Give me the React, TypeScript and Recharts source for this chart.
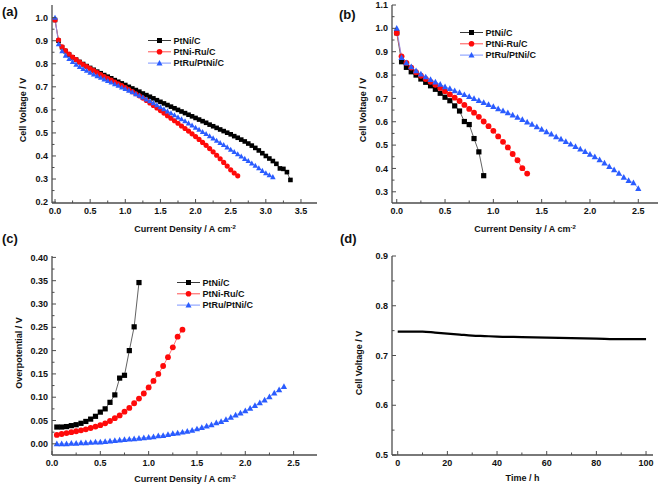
import React from 'react';
import { LineChart, Line, XAxis, YAxis, Legend } from 'recharts';

const FONT = '"Liberation Sans", Arial, Helvetica, sans-serif';
const AXIS = '#4d4d4d';
const TXT = '#111111';

// ---------- data ----------
const currentDensity = [
  0, 0.05, 0.1, 0.15, 0.2, 0.25, 0.3, 0.35, 0.4, 0.45, 0.5, 0.55, 0.6, 0.65, 0.7, 0.75, 0.8, 0.85, 0.9, 0.95,
  1.0, 1.05, 1.1, 1.15, 1.2, 1.25, 1.3, 1.35, 1.4, 1.45, 1.5, 1.55, 1.6, 1.65, 1.7, 1.75, 1.8, 1.85, 1.9, 1.95,
  2.0, 2.05, 2.1, 2.15, 2.2, 2.25, 2.3, 2.35, 2.4, 2.45, 2.5, 2.55, 2.6, 2.65, 2.7, 2.75, 2.8, 2.85, 2.9, 2.95,
  3.0, 3.05, 3.1, 3.15, 3.2, 3.25, 3.3, 3.35,
];

// (a) polarization curves
const aPtNiC = [
  0.990, 0.900, 0.872, 0.855, 0.840, 0.828, 0.818, 0.808, 0.799, 0.790, 0.782, 0.774, 0.766, 0.759, 0.751, 0.744, 0.737, 0.729, 0.722, 0.715,
  0.708, 0.700, 0.693, 0.686, 0.679, 0.671, 0.664, 0.657, 0.650, 0.642, 0.635, 0.628, 0.621, 0.614, 0.607, 0.600, 0.593, 0.586, 0.579, 0.572,
  0.565, 0.558, 0.551, 0.544, 0.536, 0.529, 0.522, 0.515, 0.508, 0.501, 0.494, 0.486, 0.479, 0.471, 0.463, 0.454, 0.445, 0.435, 0.424, 0.412,
  0.400, 0.389, 0.378, 0.366, 0.346, 0.344, 0.330, 0.296,
];
const aPtNiRuC = [
  0.990, 0.903, 0.874, 0.857, 0.842, 0.829, 0.818, 0.807, 0.797, 0.788, 0.779, 0.770, 0.762, 0.753, 0.745, 0.737, 0.729, 0.721, 0.713, 0.705,
  0.697, 0.688, 0.679, 0.670, 0.661, 0.651, 0.641, 0.630, 0.619, 0.608, 0.597, 0.586, 0.575, 0.564, 0.553, 0.542, 0.530, 0.519, 0.508, 0.496,
  0.484, 0.472, 0.459, 0.446, 0.432, 0.418, 0.403, 0.388, 0.372, 0.356, 0.340, 0.326, 0.314,
];
const aPtRuPtNiC = [
  1.000, 0.885, 0.855, 0.836, 0.821, 0.808, 0.797, 0.787, 0.778, 0.770, 0.762, 0.754, 0.747, 0.740, 0.733, 0.726, 0.719, 0.712, 0.705, 0.698,
  0.691, 0.684, 0.677, 0.669, 0.662, 0.654, 0.646, 0.638, 0.630, 0.621, 0.612, 0.603, 0.594, 0.586, 0.577, 0.568, 0.560, 0.551, 0.542, 0.533,
  0.523, 0.514, 0.505, 0.496, 0.486, 0.477, 0.467, 0.457, 0.448, 0.438, 0.428, 0.418, 0.408, 0.398, 0.388, 0.379, 0.368, 0.358, 0.347, 0.336,
  0.326, 0.317, 0.309,
];

// (b) polarization curves
const bPtNiC = [
  0.981, 0.857, 0.833, 0.814, 0.800, 0.783, 0.769, 0.754, 0.739, 0.722, 0.705, 0.690, 0.668, 0.646, 0.601, 0.588, 0.528, 0.471, 0.369,
];
const bPtNiRuC = [
  0.980, 0.880, 0.852, 0.832, 0.812, 0.797, 0.783, 0.771, 0.758, 0.745, 0.731, 0.717, 0.703, 0.689, 0.672, 0.655, 0.639, 0.621, 0.601, 0.581,
  0.561, 0.537, 0.514, 0.490, 0.462, 0.435, 0.401, 0.378,
];
const bPtRuPtNiC = [
  1.000, 0.875, 0.853, 0.835, 0.818, 0.804, 0.792, 0.781, 0.770, 0.760, 0.750, 0.742, 0.733, 0.725, 0.716, 0.708, 0.699, 0.691, 0.682, 0.674,
  0.665, 0.656, 0.647, 0.638, 0.629, 0.619, 0.609, 0.599, 0.589, 0.578, 0.568, 0.557, 0.547, 0.536, 0.526, 0.515, 0.504, 0.494, 0.483, 0.472,
  0.461, 0.450, 0.437, 0.423, 0.408, 0.394, 0.379, 0.362, 0.348, 0.339, 0.314,
];

// (c) overpotential (starts at 0.05 A cm-2)
const cPtNiC = [
  0.036, 0.036, 0.037, 0.039, 0.041, 0.044, 0.048, 0.053, 0.059, 0.068, 0.075, 0.089, 0.105, 0.141, 0.147, 0.200, 0.251, 0.346,
];
const cPtNiRuC = [
  0.019, 0.021, 0.023, 0.025, 0.027, 0.029, 0.031, 0.034, 0.037, 0.040, 0.044, 0.049, 0.055, 0.061, 0.069, 0.077, 0.087, 0.097, 0.108, 0.121,
  0.135, 0.150, 0.167, 0.186, 0.207, 0.230, 0.245,
];
const cPtRuPtNiC = [
  0.000, 0.000, 0.000, 0.001, 0.001, 0.002, 0.002, 0.003, 0.004, 0.004, 0.005, 0.006, 0.007, 0.008, 0.009, 0.010, 0.011, 0.012, 0.013, 0.014,
  0.015, 0.017, 0.018, 0.020, 0.022, 0.023, 0.025, 0.027, 0.029, 0.032, 0.035, 0.038, 0.041, 0.045, 0.048, 0.052, 0.057, 0.062, 0.066, 0.071,
  0.076, 0.082, 0.088, 0.094, 0.101, 0.109, 0.116, 0.123,
];

// (d) durability test
const timeH = [0, 5, 10, 15, 20, 25, 30, 35, 40, 50, 60, 70, 80, 90, 100];
const dVoltage = [0.748, 0.748, 0.748, 0.746, 0.744, 0.742, 0.740, 0.739, 0.738, 0.737, 0.736, 0.735, 0.734, 0.733, 0.733];

// tick lists
const xTicksA = [0, 0.25, 0.5, 0.75, 1.0, 1.25, 1.5, 1.75, 2.0, 2.25, 2.5, 2.75, 3.0, 3.25, 3.5];
const xMajorA = [0, 0.5, 1.0, 1.5, 2.0, 2.5, 3.0, 3.5];
const yTicksA = [0.2, 0.25, 0.3, 0.35, 0.4, 0.45, 0.5, 0.55, 0.6, 0.65, 0.7, 0.75, 0.8, 0.85, 0.9, 0.95, 1.0];
const yMajorA = [0.2, 0.3, 0.4, 0.5, 0.6, 0.7, 0.8, 0.9, 1.0];
const xTicksBC = [0, 0.25, 0.5, 0.75, 1.0, 1.25, 1.5, 1.75, 2.0, 2.25, 2.5];
const xMajorBC = [0, 0.5, 1.0, 1.5, 2.0, 2.5];
const yTicksB = [0.3, 0.35, 0.4, 0.45, 0.5, 0.55, 0.6, 0.65, 0.7, 0.75, 0.8, 0.85, 0.9, 0.95, 1.0, 1.05, 1.1];
const yMajorB = [0.3, 0.4, 0.5, 0.6, 0.7, 0.8, 0.9, 1.0, 1.1];
const yTicksC = [0, 0.025, 0.05, 0.075, 0.1, 0.125, 0.15, 0.175, 0.2, 0.225, 0.25, 0.275, 0.3, 0.325, 0.35, 0.375, 0.4];
const yMajorC = [0, 0.05, 0.1, 0.15, 0.2, 0.25, 0.3, 0.35, 0.4];
const xTicksD = [0, 10, 20, 30, 40, 50, 60, 70, 80, 90, 100];
const xMajorD = [0, 20, 40, 60, 80, 100];
const yTicksD = [0.5, 0.55, 0.6, 0.65, 0.7, 0.75, 0.8, 0.85, 0.9];
const yMajorD = [0.5, 0.6, 0.7, 0.8, 0.9];

const seriesNames = ['PtNi/C', 'PtNi-Ru/C', 'PtRu/PtNi/C'];

// ---------- helpers ----------
type Pt = { x: number; y: number };
const toPts = (xs: number[], ys: number[]): Pt[] => ys.map((y, i) => ({ x: xs[i], y }));

const isIn = (v: number, arr: number[]) => arr.some((m) => Math.abs(m - v) < 1e-6);

const STYLE = [
  { shape: 'square', color: '#000000', line: '#3a3a3a' },
  { shape: 'circle', color: '#ff0a0a', line: '#ff5050' },
  { shape: 'triangle', color: '#2a5cff', line: '#7d96ff' },
];

function Marker({ cx, cy, shape, color, s }: { cx: number; cy: number; shape: string; color: string; s: number }) {
  if (cx == null || cy == null || isNaN(cx) || isNaN(cy)) return null;
  if (shape === 'square') {
    return <rect x={cx - s / 2} y={cy - s / 2} width={s} height={s} fill={color} />;
  }
  if (shape === 'circle') {
    return <circle cx={cx} cy={cy} r={s * 0.56} fill={color} />;
  }
  const h = s * 1.05;
  const w = s * 1.2;
  return (
    <polygon
      points={`${cx},${cy - h * 0.6} ${cx - w / 2},${cy + h * 0.45} ${cx + w / 2},${cy + h * 0.45}`}
      fill={color}
    />
  );
}

const xTickRenderer = (majors: number[], fmt: (v: number) => string) => (p: any) => {
  const { x, y, payload } = p;
  const v = payload.value;
  const major = isIn(v, majors);
  return (
    <g>
      <line x1={x} x2={x} y1={y} y2={y - (major ? 4 : 2.5)} stroke={AXIS} strokeWidth={1} />
      {major && (
        <text x={x} y={y + 5} dy="0.71em" textAnchor="middle" fontSize={9} fontWeight="bold" fontFamily={FONT} fill={TXT}>
          {fmt(v)}
        </text>
      )}
    </g>
  );
};

const yTickRenderer = (majors: number[], fmt: (v: number) => string) => (p: any) => {
  const { x, y, payload } = p;
  const v = payload.value;
  const major = isIn(v, majors);
  return (
    <g>
      <line x1={x} x2={x + (major ? 4 : 2.5)} y1={y} y2={y} stroke={AXIS} strokeWidth={1} />
      {major && (
        <text x={x - 4} y={y} dy="0.35em" textAnchor="end" fontSize={9} fontWeight="bold" fontFamily={FONT} fill={TXT}>
          {fmt(v)}
        </text>
      )}
    </g>
  );
};

type Series = { data: Pt[]; style: number };

type PanelProps = {
  left: number;
  top: number;
  width: number;
  height: number;
  margin: { top: number; left: number; right: number; bottom: number };
  xDomain: [number, number];
  yDomain: [number, number];
  xTicks: number[];
  xMajor: number[];
  xFmt: (v: number) => string;
  yTicks: number[];
  yMajor: number[];
  yFmt: (v: number) => string;
  series: Series[];
  markerSize: number;
  legendPos?: { left: number; top: number };
  plainLine?: boolean;
};

function LegendBox() {
  return (
    <svg width={120} height={36} style={{ overflow: 'visible', display: 'block' }}>
      {seriesNames.map((n, i) => {
        const st = STYLE[i];
        const yy = 5.5 + i * 11.3;
        return (
          <g key={n}>
            <line x1={0} x2={23} y1={yy} y2={yy} stroke={st.line} strokeWidth={1} />
            <Marker cx={11.5} cy={yy} shape={st.shape} color={st.color} s={5} />
            <text x={25.5} y={yy} dy="0.35em" fontSize={9} fontWeight="bold" fontFamily={FONT} fill={TXT}>
              {n}
            </text>
          </g>
        );
      })}
    </svg>
  );
}

function Panel(props: PanelProps) {
  const {
    left, top, width, height, margin, xDomain, yDomain, xTicks, xMajor, xFmt, yTicks, yMajor, yFmt, series,
    markerSize, legendPos, plainLine,
  } = props;
  return (
    <div style={{ position: 'absolute', left, top, width, height }}>
      <LineChart width={width} height={height} margin={margin}>
        <XAxis
          type="number"
          dataKey="x"
          domain={xDomain}
          allowDataOverflow
          ticks={xTicks}
          interval={0}
          tickSize={0}
          tickMargin={0}
          height={30}
          axisLine={{ stroke: AXIS, strokeWidth: 1.3 }}
          tickLine={false}
          tick={xTickRenderer(xMajor, xFmt)}
        />
        <YAxis
          type="number"
          dataKey="y"
          domain={yDomain}
          allowDataOverflow
          ticks={yTicks}
          interval={0}
          tickSize={0}
          tickMargin={0}
          width={40}
          axisLine={{ stroke: AXIS, strokeWidth: 1.3 }}
          tickLine={false}
          tick={yTickRenderer(yMajor, yFmt)}
        />
        <XAxis
          xAxisId="top"
          orientation="top"
          type="number"
          domain={xDomain}
          allowDataOverflow
          height={0}
          tick={false}
          tickLine={false}
          axisLine={{ stroke: AXIS, strokeWidth: 1.3 }}
        />
        <YAxis
          yAxisId="right"
          orientation="right"
          type="number"
          domain={yDomain}
          allowDataOverflow
          width={0}
          tick={false}
          tickLine={false}
          axisLine={{ stroke: AXIS, strokeWidth: 1.3 }}
        />
        {series.map((s, i) => {
          const st = STYLE[s.style];
          if (plainLine) {
            return (
              <Line
                key={i}
                data={s.data}
                dataKey="y"
                type="monotone"
                stroke="#000000"
                strokeWidth={2.2}
                dot={false}
                activeDot={false}
                isAnimationActive={false}
                legendType="none"
              />
            );
          }
          return (
            <Line
              key={i}
              data={s.data}
              dataKey="y"
              type="linear"
              stroke={st.line}
              strokeWidth={0.8}
              dot={(dp: any) => (
                <Marker key={`m-${i}-${dp.index}`} cx={dp.cx} cy={dp.cy} shape={st.shape} color={st.color} s={markerSize} />
              )}
              activeDot={false}
              isAnimationActive={false}
              legendType="none"
            />
          );
        })}
        {legendPos && (
          <Legend
            layout="vertical"
            align="center"
            verticalAlign="middle"
            wrapperStyle={{ left: legendPos.left, top: legendPos.top, width: 120, height: 36 }}
            content={() => <LegendBox />}
          />
        )}
      </LineChart>
    </div>
  );
}

const f1 = (v: number) => v.toFixed(1);
const f2 = (v: number) => v.toFixed(2);
const f0 = (v: number) => String(Math.round(v));

function Title({ x, y, text, rotate, sup }: { x: number; y: number; text: string; rotate?: boolean; sup?: string }) {
  return (
    <text
      transform={rotate ? `translate(${x},${y}) rotate(-90)` : `translate(${x},${y})`}
      textAnchor="middle"
      dy="0.35em"
      fontSize={9}
      fontWeight="bold"
      fontFamily={FONT}
      fill={TXT}
    >
      {text}
      {sup && (
        <tspan dy={-3.5} fontSize={6}>
          {sup}
        </tspan>
      )}
    </text>
  );
}

export default function App() {
  const cdC = currentDensity.slice(1);
  return (
    <div style={{ position: 'absolute', left: 0, top: 0, width: 661, height: 486, background: '#ffffff', overflow: 'hidden' }}>
      <Panel
        left={0}
        top={0}
        width={330}
        height={243}
        margin={{ top: 5, left: 12, right: 13, bottom: 10 }}
        xDomain={[-0.043, 3.728]}
        yDomain={[0.196, 1.055]}
        xTicks={xTicksA}
        xMajor={xMajorA}
        xFmt={f1}
        yTicks={yTicksA}
        yMajor={yMajorA}
        yFmt={f1}
        markerSize={4.6}
        series={[
          { data: toPts(currentDensity, aPtNiC), style: 0 },
          { data: toPts(currentDensity, aPtNiRuC), style: 1 },
          { data: toPts(currentDensity, aPtRuPtNiC), style: 2 },
        ]}
        legendPos={{ left: 148, top: 35 }}
      />
      <Panel
        left={330}
        top={0}
        width={331}
        height={243}
        margin={{ top: 5, left: 22, right: 3, bottom: 10 }}
        xDomain={[-0.049, 2.704]}
        yDomain={[0.252, 1.1]}
        xTicks={xTicksBC}
        xMajor={xMajorBC}
        xFmt={f1}
        yTicks={yTicksB}
        yMajor={yMajorB}
        yFmt={f1}
        markerSize={5.2}
        series={[
          { data: toPts(currentDensity, bPtNiC), style: 0 },
          { data: toPts(currentDensity, bPtNiRuC), style: 1 },
          { data: toPts(currentDensity, bPtRuPtNiC), style: 2 },
        ]}
        legendPos={{ left: 130, top: 27 }}
      />
      <Panel
        left={0}
        top={243}
        width={330}
        height={243}
        margin={{ top: 13, left: 12, right: 13, bottom: 1 }}
        xDomain={[0, 2.742]}
        yDomain={[-0.024, 0.403]}
        xTicks={xTicksBC}
        xMajor={xMajorBC}
        xFmt={f1}
        yTicks={yTicksC}
        yMajor={yMajorC}
        yFmt={f2}
        markerSize={5.2}
        series={[
          { data: toPts(cdC, cPtNiC), style: 0 },
          { data: toPts(cdC, cPtNiRuC), style: 1 },
          { data: toPts(cdC, cPtRuPtNiC), style: 2 },
        ]}
        legendPos={{ left: 177, top: 33.5 }}
      />
      <Panel
        left={330}
        top={243}
        width={331}
        height={243}
        margin={{ top: 13, left: 22, right: 8, bottom: 1 }}
        xDomain={[-2.3, 102.8]}
        yDomain={[0.5, 0.9]}
        xTicks={xTicksD}
        xMajor={xMajorD}
        xFmt={f0}
        yTicks={yTicksD}
        yMajor={yMajorD}
        yFmt={f1}
        markerSize={0}
        plainLine
        series={[{ data: toPts(timeH, dVoltage), style: 0 }]}
      />
      <svg
        width={661}
        height={486}
        style={{ position: 'absolute', left: 0, top: 0, pointerEvents: 'none', overflow: 'visible' }}
      >
        <text x={2} y={15.5} fontSize={13} fontWeight="bold" fontFamily={FONT} fill={TXT}>(a)</text>
        <text x={339} y={18.5} fontSize={13} fontWeight="bold" fontFamily={FONT} fill={TXT}>(b)</text>
        <text x={2} y={243} fontSize={13} fontWeight="bold" fontFamily={FONT} fill={TXT}>(c)</text>
        <text x={340} y={243} fontSize={13} fontWeight="bold" fontFamily={FONT} fill={TXT}>(d)</text>

        <Title x={23} y={110} text="Cell Voltage / V" rotate />
        <Title x={185} y={229} text="Current Density / A cm" sup="-2" />
        <Title x={363} y={110} text="Cell Voltage / V" rotate />
        <Title x={525} y={229} text="Current Density / A cm" sup="-2" />
        <Title x={18.5} y={353} text="Overpotential / V" rotate />
        <Title x={185} y={479} text="Current Density / A cm" sup="-2" />
        <Title x={358.5} y={363} text="Cell Voltage / V" rotate />
        <Title x={522.5} y={478} text="Time / h" />
      </svg>
    </div>
  );
}
